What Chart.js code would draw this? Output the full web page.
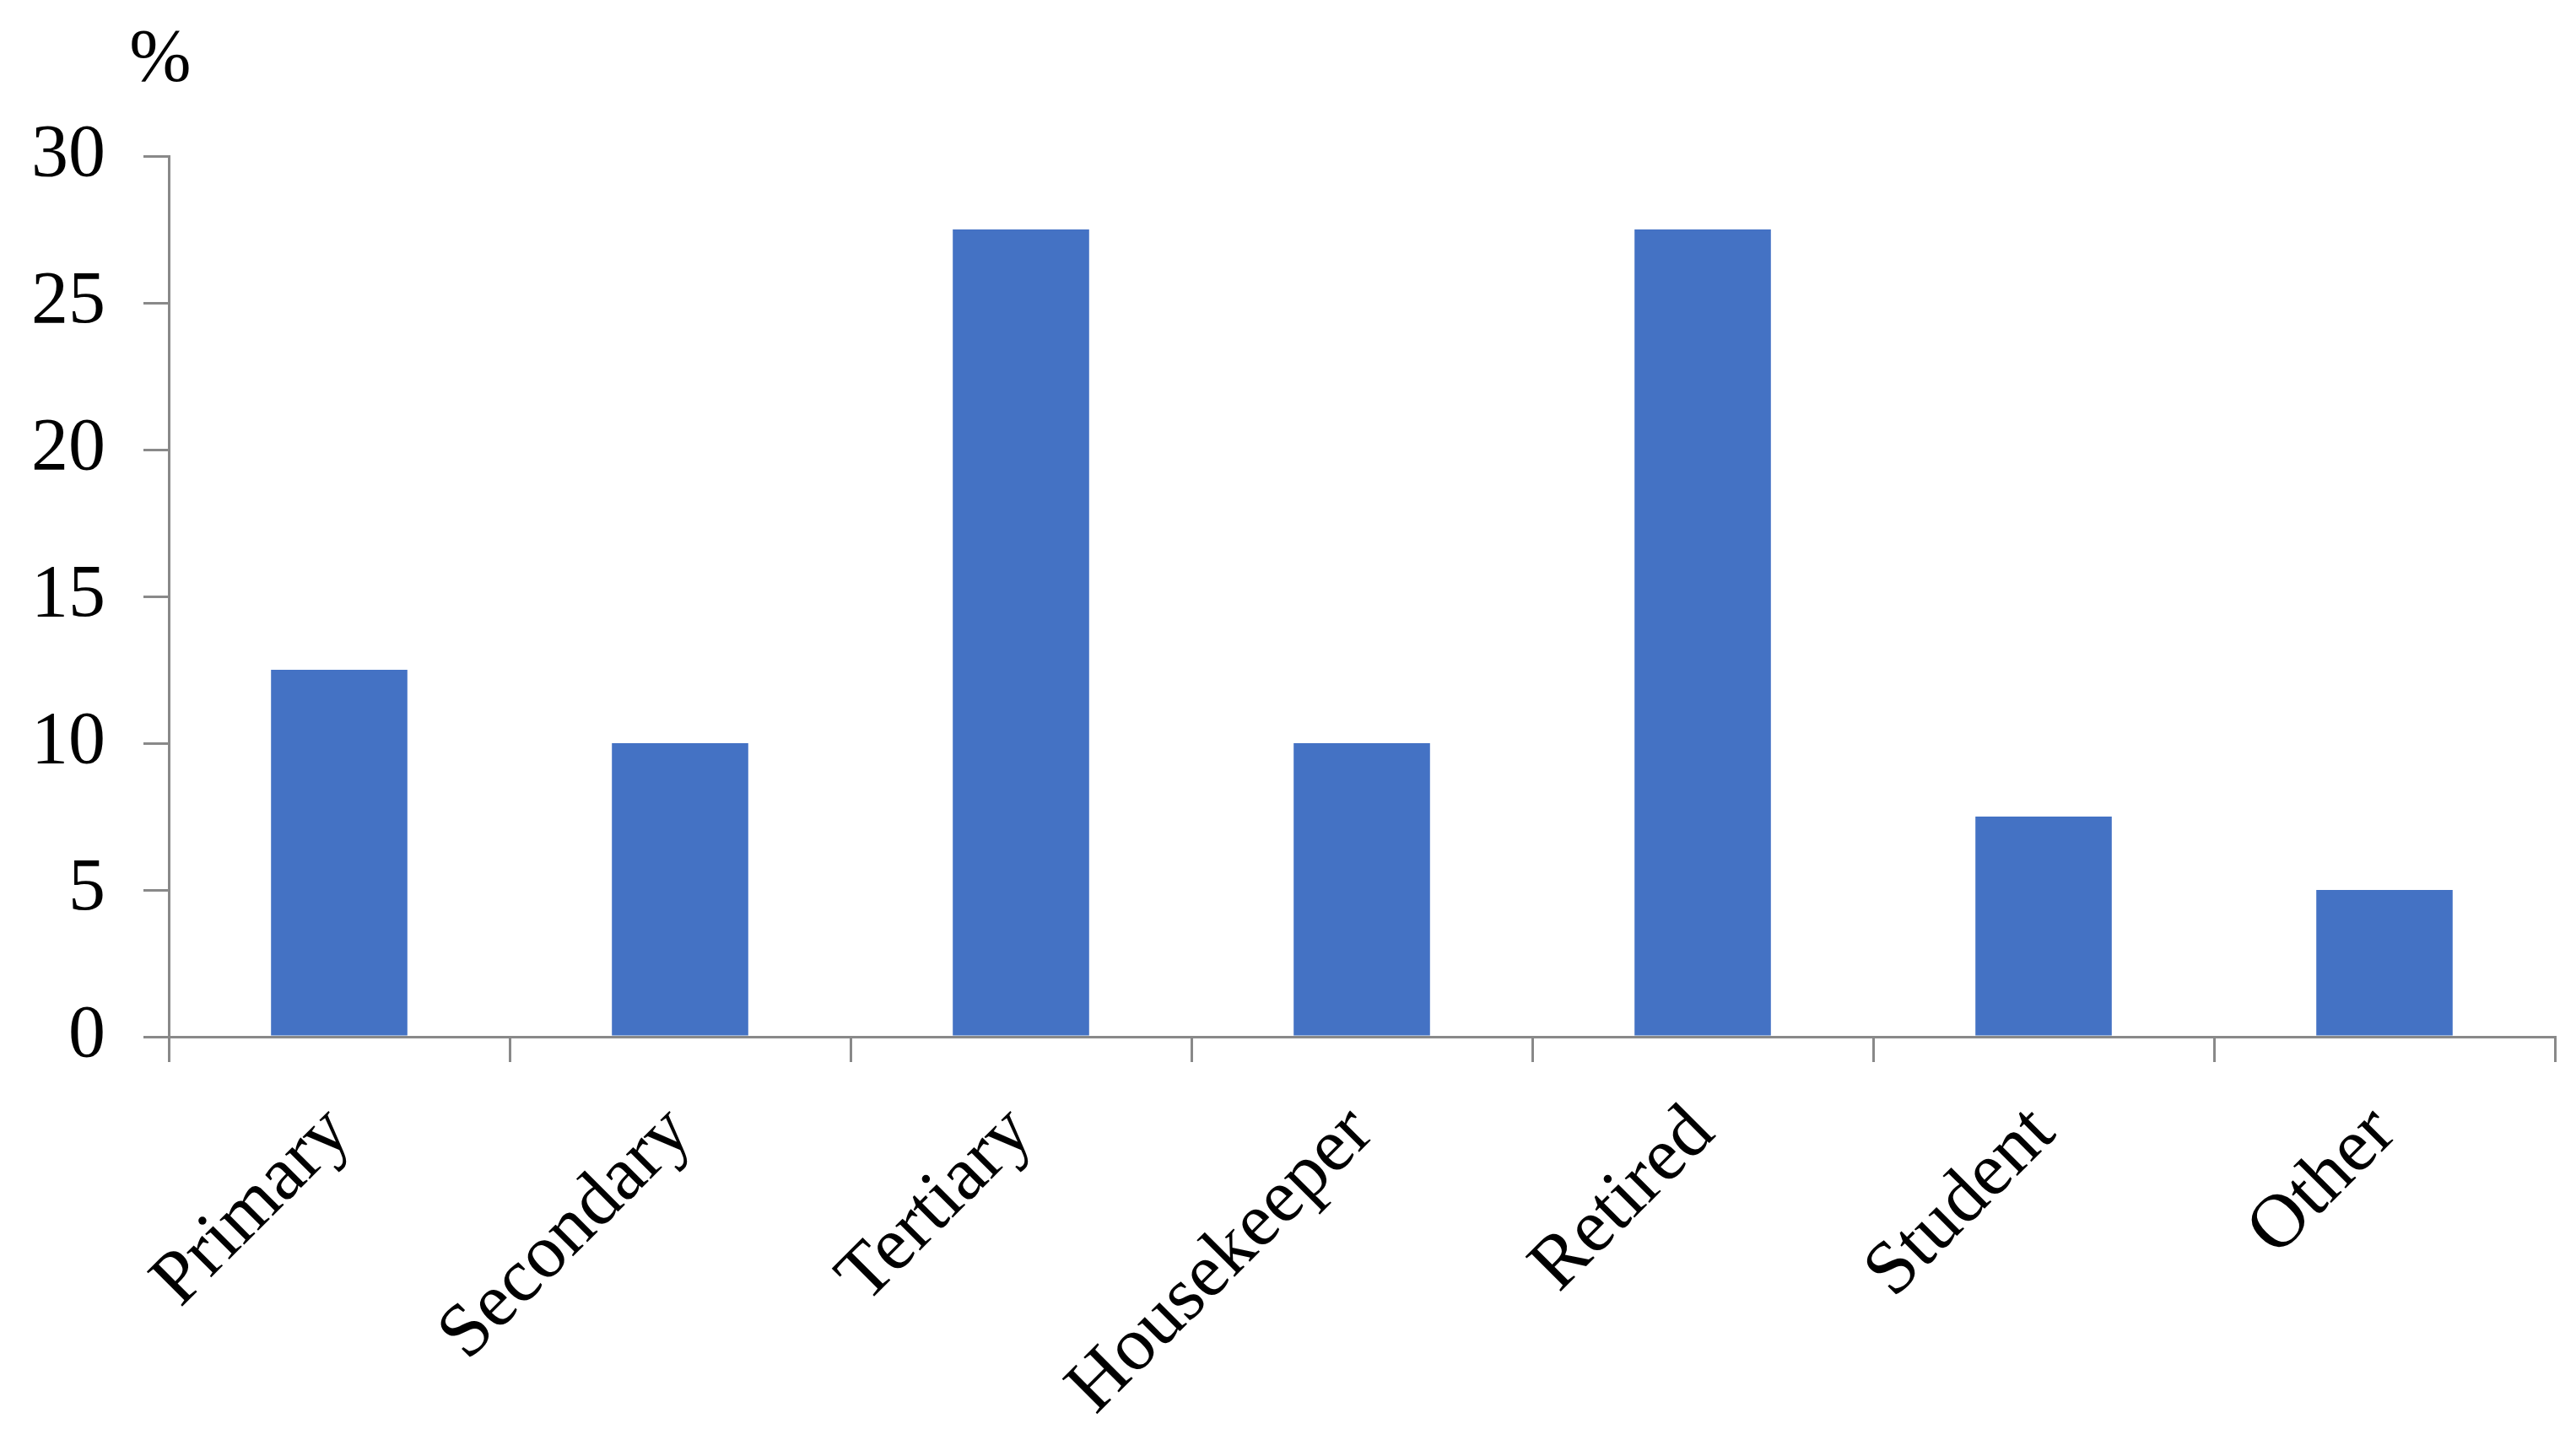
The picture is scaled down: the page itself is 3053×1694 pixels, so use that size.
<!DOCTYPE html>
<html>
<head>
<meta charset="utf-8">
<script src="https://cdn.jsdelivr.net/npm/chart.js@4.4.0/dist/chart.umd.min.js"></script>
<style>
html,body{margin:0;padding:0;background:#fff}
#wrap{width:3053px;height:1694px;position:relative}
</style>
</head>
<body>
<div id="wrap"><canvas id="occChart"></canvas></div>
<script>
// ===== DATA =====
const CATEGORIES=['Primary','Secondary','Tertiary','Housekeeper','Retired','Student','Other'];
const SHARE_PCT=[12.5,10,27.5,10,27.5,7.5,5];
const Y_MIN=0,Y_MAX=30,Y_STEP=5;
const UNIT_LABEL='%';

const AXIS_COL='#898989';
const BAR_COL='#4472C4';
const FONT='"Liberation Serif","Times New Roman",serif';

// unit label above the y axis
const unitLabel={
  id:'unitLabel',
  afterDraw(chart){
    const {ctx,chartArea}=chart;
    ctx.save();
    ctx.font='88px '+FONT;ctx.fillStyle='#000';
    ctx.textAlign='center';ctx.textBaseline='middle';
    ctx.fillText(UNIT_LABEL,chartArea.left-10,72);
    ctx.restore();
  }
};

const ctx=document.getElementById('occChart').getContext('2d');
new Chart(ctx,{
  type:'bar',
  data:{labels:CATEGORIES,datasets:[{data:SHARE_PCT,backgroundColor:BAR_COL,borderWidth:0,barPercentage:0.4,categoryPercentage:1}]},
  options:{
    responsive:true,maintainAspectRatio:false,animation:false,
    layout:{padding:{top:185,right:25,left:0,bottom:0}},
    plugins:{legend:{display:false},tooltip:{enabled:false}},
    scales:{
      x:{
        grid:{offset:true,drawOnChartArea:false,drawTicks:true,tickLength:30,color:AXIS_COL,lineWidth:3},
        border:{display:true,color:AXIS_COL,width:3},
        ticks:{color:'#000',font:{family:FONT,size:90},maxRotation:45,minRotation:45,padding:32,autoSkip:false},
        afterFit:s=>{s.height=465}
      },
      y:{
        min:Y_MIN,max:Y_MAX,
        grid:{drawOnChartArea:false,drawTicks:true,tickLength:30,color:AXIS_COL,lineWidth:3},
        border:{display:true,color:AXIS_COL,width:3},
        ticks:{stepSize:Y_STEP,color:'#000',font:{family:FONT,size:88},padding:45},
        afterFit:s=>{s.width=200}
      }
    }
  },
  plugins:[unitLabel]
});
</script>
</body>
</html>
